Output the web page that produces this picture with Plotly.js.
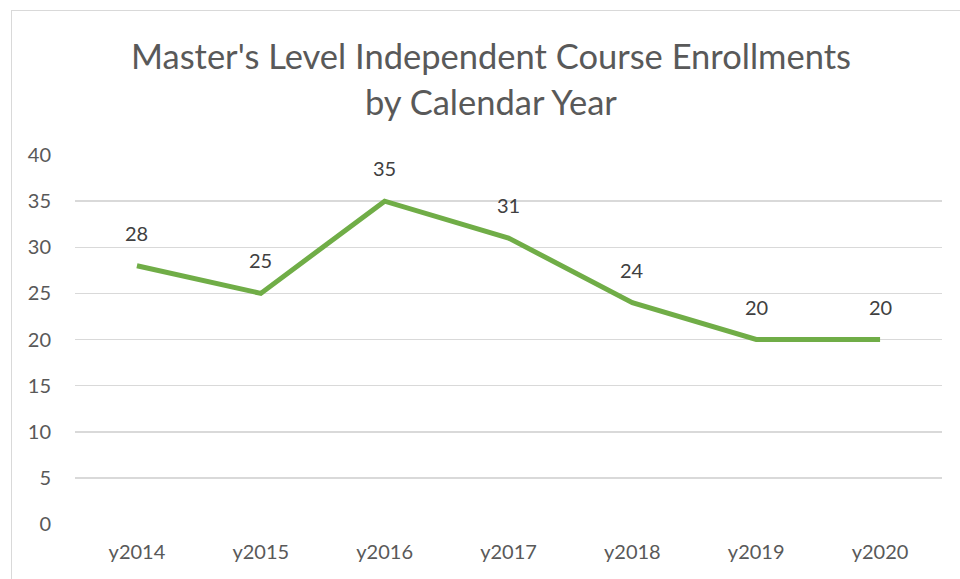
<!DOCTYPE html>
<html>
<head>
<meta charset="utf-8">
<script src="https://cdn.plot.ly/plotly-3.0.1.min.js"></script>
<style>
html,body{margin:0;padding:0;background:#fff;}
#chart{width:960px;height:579px;}
#frame{position:absolute;left:11px;top:10px;width:960px;height:600px;border:1px solid #d9d9d9;pointer-events:none;}
</style>
</head>
<body>
<div id="chart"></div>
<div id="frame"></div>
<script>
const years = ["y2014","y2015","y2016","y2017","y2018","y2019","y2020"];
const enrollments = [28, 25, 35, 31, 24, 20, 20];
const yTicks = [0, 5, 10, 15, 20, 25, 30, 35, 40];
const titleLines = ["Master's Level Independent Course Enrollments", "by Calendar Year"];

const font = "Lato, 'Open Sans', sans-serif";

const trace = {
  x: years,
  y: enrollments,
  type: "scatter",
  mode: "lines",
  line: {color: "#70ad47", width: 5},
  hoverinfo: "x+y"
};

const annotations = years.map((yr, i) => ({
  x: yr, y: enrollments[i], xref: "x", yref: "y",
  text: String(enrollments[i]), showarrow: false, yshift: 33,
  font: {family: font, size: 20, color: "#404040"}
}));

const titleY = [55, 101];
titleLines.forEach((t, i) => {
  annotations.push({
    text: t, showarrow: false, xref: "paper", yref: "paper",
    x: 0.48, xanchor: "center",
    y: 1 + (155 - titleY[i]) / (579 - 155 - 55), yanchor: "middle",
    font: {family: font, size: 34.5, color: "#595959"}
  });
});

const layout = {
  width: 960, height: 579,
  margin: {l: 75, r: 18, t: 155, b: 55},
  paper_bgcolor: "#ffffff", plot_bgcolor: "#ffffff",
  xaxis: {
    type: "category", range: [-0.5, 6.5],
    showgrid: false, zeroline: false, showline: false, ticks: "",
    ticklabelstandoff: 14,
    tickfont: {family: font, size: 20, color: "#595959"}
  },
  yaxis: {
    range: [0, 40], tickvals: yTicks, ticktext: yTicks.map(String),
    showgrid: true, gridcolor: "#d9d9d9", gridwidth: 1.5,
    zeroline: false, showline: false, ticks: "",
    ticklabelstandoff: 23,
    tickfont: {family: font, size: 20, color: "#595959"}
  },
  annotations: annotations,
  showlegend: false
};

Plotly.newPlot("chart", [trace], layout, {displayModeBar: false, staticPlot: true});
</script>
</body>
</html>
